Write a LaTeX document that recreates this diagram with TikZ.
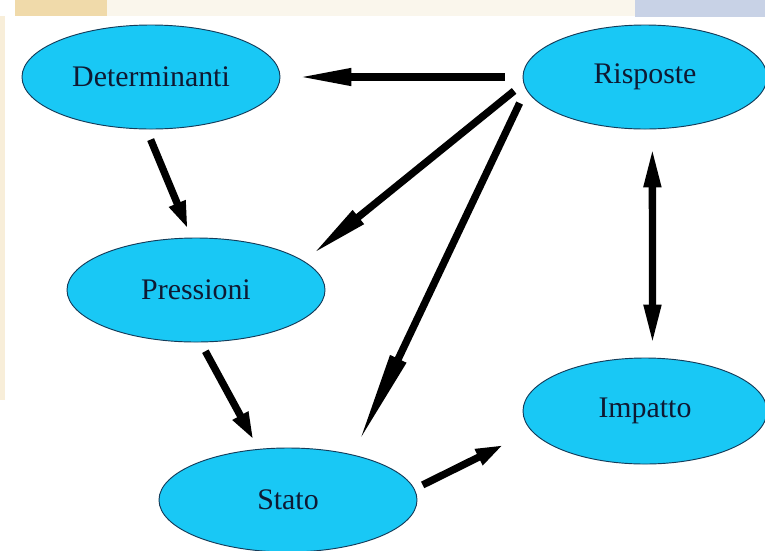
\documentclass[tikz,border=0pt]{standalone}
\usepackage{fontspec}
\setmainfont{Liberation Serif}
\usetikzlibrary{shapes.geometric, arrows.meta}

\definecolor{bubble}{RGB}{25,200,245}
\definecolor{rim}{RGB}{20,60,90}
\definecolor{ink}{RGB}{15,25,50}
\definecolor{sand}{RGB}{240,218,170}
\definecolor{paper}{RGB}{250,246,236}
\definecolor{slate}{RGB}{200,210,230}

\begin{document}
\begin{tikzpicture}[x=0.03cm, y=-0.03cm,
    phase/.style={ellipse, draw=rim, line width=0.8pt, fill=bubble, inner sep=0pt,
        minimum width=7.74cm, minimum height=3.12cm, text=ink,
        font=\fontsize{25.5}{30}\selectfont},
    link/.style={line width=0.22cm, -{Triangle[length=#1, width=0.48cm]}},
    link/.default=0.84cm]
        % Page and leftovers of the slide behind it
        \path[use as bounding box, clip] (0, 0) rectangle (765, 550);
        \fill[white] (0, 0) rectangle (765, 550);
        \fill[paper] (107, 0) rectangle (635, 16);
        \fill[sand] (15, 0) rectangle (107, 16);
        \fill[slate] (635, 0) rectangle (765, 17);
        \fill[sand!45] (0, 16) rectangle (5, 400);

        % The five phases
        \node[phase] (det) at (151, 77) {Determinanti};
        \node[phase, minimum width=7.32cm] (ris) at (645, 77) {Risposte};
        \node[phase] (pre) at (196, 290) {Pressioni};
        \node[phase] (sta) at (288, 500) {Stato};
        \node[phase, minimum width=7.32cm, minimum height=3.18cm] (imp) at (645, 411) {Impatto};

        % Chain on the left
        \draw[link, shorten <=0.33cm, shorten >=0.27cm] (det.265) -- (pre.95);
        \draw[link, shorten <=0.30cm, shorten >=0.30cm] (pre.275) -- (sta.120);
        \draw[link, shorten <=0.27cm, shorten >=0.93cm] (sta.5) -- (imp.190);

        % Responses acting back on the others
        \draw[link=1.62cm, shorten <=0.54cm, shorten >=0.51cm] (ris.west) -- (det.east);
        \draw[link=1.8cm, shorten <=0.36cm, shorten >=0.30cm] (ris.183) -- (pre.15);
        \draw[link=2.85cm, shorten <=0.45cm, shorten >=0.33cm] (ris.186) -- (sta.35);

        % Two-way link between responses and impact
        \draw[line width=0.22cm, {Triangle[length=1.2cm, width=0.48cm]}-{Triangle[length=1.2cm, width=0.48cm]},
            shorten <=0.54cm, shorten >=0.39cm] (ris.-82) -- (imp.82);
    \end{tikzpicture}
\end{document}
